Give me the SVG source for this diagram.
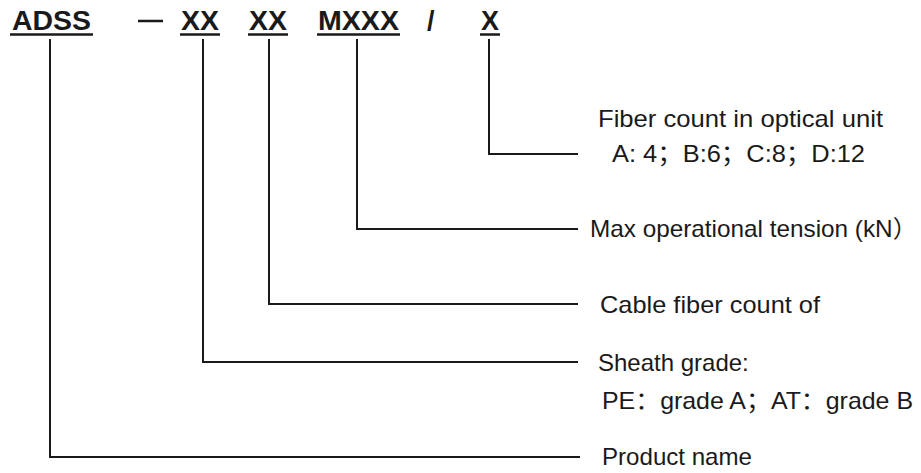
<svg xmlns="http://www.w3.org/2000/svg" width="921" height="473" viewBox="0 0 921 473">
<style>
.code{font-family:"Liberation Sans",Arial,sans-serif;font-weight:bold;font-size:27px;fill:#1a1a1a}
.lbl{font-family:"Liberation Sans",Arial,"Noto Sans CJK SC",sans-serif;font-size:24px;fill:#1a1a1a}
.nar{font-family:"Liberation Sans",Arial,"Noto Sans CJK SC",sans-serif;font-size:24px;fill:#1a1a1a}
.ul{stroke:#1a1a1a;stroke-width:2.5;fill:none}
.conn{stroke:#1a1a1a;stroke-width:2;fill:none}
</style>
<rect width="921" height="473" fill="#ffffff"/>
<g id="code">
  <g id="n-adss"><text class="code" x="12" y="30" textLength="79" lengthAdjust="spacingAndGlyphs">ADSS</text><line class="ul" x1="10" y1="34.5" x2="93" y2="34.5"/></g>
  <g id="n-dash"><line class="ul" x1="138" y1="21" x2="163" y2="21"/></g>
  <g id="n-xx1"><text class="code" x="181" y="30" textLength="38" lengthAdjust="spacingAndGlyphs">XX</text><line class="ul" x1="180" y1="34.5" x2="220" y2="34.5"/></g>
  <g id="n-xx2"><text class="code" x="249" y="30" textLength="38" lengthAdjust="spacingAndGlyphs">XX</text><line class="ul" x1="248" y1="34.5" x2="288" y2="34.5"/></g>
  <g id="n-mxxx"><text class="code" x="318" y="30" textLength="81" lengthAdjust="spacingAndGlyphs">MXXX</text><line class="ul" x1="317" y1="34.5" x2="400" y2="34.5"/></g>
  <g id="n-slash"><text class="code" x="427" y="30" font-weight="normal">/</text></g>
  <g id="n-x"><text class="code" x="481" y="30" textLength="18" lengthAdjust="spacingAndGlyphs">X</text><line class="ul" x1="480" y1="34.5" x2="500" y2="34.5"/></g>
</g>
<g id="connectors">
  <polyline class="conn" points="489,39 489,154 578,154"/>
  <polyline class="conn" points="357,39 357,229 578,229"/>
  <polyline class="conn" points="269,39 269,304 578,304"/>
  <polyline class="conn" points="203,39 203,362 578,362"/>
  <polyline class="conn" points="50,39 50,457 580,457"/>
</g>
<g id="n-fiber-unit">
  <text class="lbl" x="598" y="127" textLength="285" lengthAdjust="spacingAndGlyphs">Fiber count in optical unit</text>
  <text class="lbl" x="612" y="162" textLength="253" lengthAdjust="spacingAndGlyphs">A: 4；B:6；C:8；D:12</text>
</g>
<g id="n-tension"><text class="lbl" x="590" y="237" textLength="327" lengthAdjust="spacingAndGlyphs">Max operational tension (kN）</text></g>
<g id="n-cable"><text class="lbl" x="600" y="313" textLength="220" lengthAdjust="spacingAndGlyphs">Cable fiber count of</text></g>
<g id="n-sheath">
  <text class="lbl" x="598" y="371">Sheath grade:</text>
  <text class="nar" x="602" y="409" textLength="311" lengthAdjust="spacingAndGlyphs">PE：grade A；AT：grade B</text>
</g>
<g id="n-product"><text class="nar" x="602" y="465" textLength="150" lengthAdjust="spacingAndGlyphs">Product name</text></g>
</svg>
